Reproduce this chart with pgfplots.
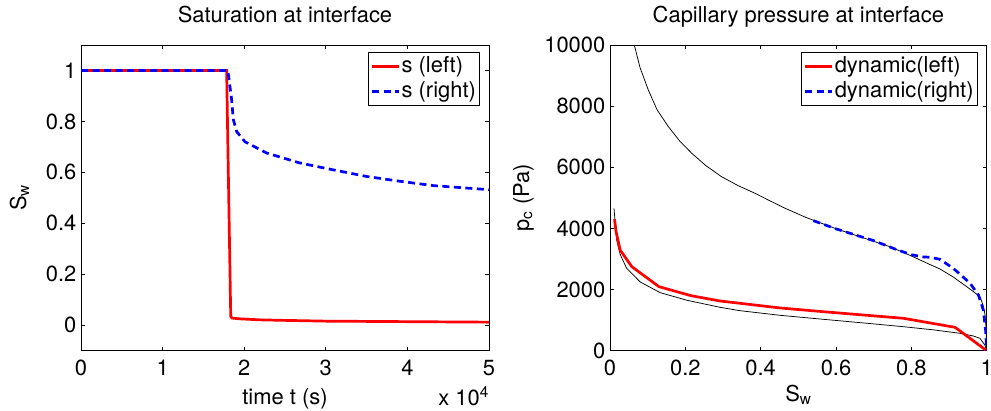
\documentclass[border=0pt]{standalone}
\usepackage{fontspec}
\setmainfont{TeX Gyre Heros}
\usepackage{pgfplots}
\pgfplotsset{compat=1.18}
\pgfplotsset{
  matlab/.style={
    scale only axis,
    height=305.7bp,
    axis line style={line width=0.8bp},
    every tick/.style={black, line width=0.8bp},
    major tick length=3.8bp,
    tick align=inside,
    /pgf/number format/assume math mode=true,
    /pgf/number format/1000 sep={},
    scaled y ticks=false,
    scaled x ticks=false,
    xticklabel style={inner sep=0pt, yshift=-9.5bp},
    yticklabel style={inner sep=0pt, xshift=-4.5bp},
    title style={at={(axis description cs:0.5,1.0556)}, anchor=base, inner sep=0pt},
    legend cell align=left,
    legend image code/.code={\draw[##1] (0bp,0bp) -- (26.7bp,0bp);},
    legend style={at={(axis description cs:1,1)}, anchor=north east, xshift=-8.7bp, yshift=-6.7bp, draw=black, line width=0.8bp, inner xsep=2.5bp, inner ysep=3bp, row sep=3bp, nodes={inner sep=1.5bp}},
  },
  redline/.style={color=red, line width=2.7bp},
  blueline/.style={color=blue, line width=2.7bp, dash pattern=on 7bp off 4.5bp},
  blackline/.style={color=black, line width=0.75bp},
}
\begin{document}
\fontsize{22}{26}\selectfont
\begin{tikzpicture}
\useasboundingbox (0,0) rectangle (991bp,411bp);
\begin{axis}[matlab, name=leftax, at={(81bp,60.3bp)}, anchor=south west, width=408bp,
  xmin=0, xmax=50000, ymin=-0.1, ymax=1.1,
  xtick={0,10000,20000,30000,40000,50000},
  xticklabels={0,1,2,3,4,5},
  ytick={0,0.2,0.4,0.6,0.8,1},
  yticklabels={0,0.2,0.4,0.6,0.8,1},
  title={Saturation at interface},
  xlabel={time t (s)},
  ylabel={S\textsubscript{w}},
  xlabel style={at={(axis description cs:0.5,-0.1744)}, anchor=base, inner sep=0pt},
  ylabel style={at={(axis description cs:-0.1348,0.5)}, anchor=base, inner sep=0pt},
]
\addplot[redline] coordinates {
(0,1) (17850,1) (17950,0.8) (18350,0.035) (18500,0.028) (19500,0.025) (22000,0.021) (25000,0.019) (30000,0.016) (40000,0.014) (50000,0.012)
};
\addlegendentry{s (left)}
\addplot[blueline] coordinates {
(0,1) (18000,1) (18100,0.976) (18460,0.885) (18670,0.807) (19080,0.76) (20100,0.72) (22750,0.676) (26800,0.637) (30900,0.61) (35000,0.584) (39100,0.565) (43200,0.548) (50000,0.532)
};
\addlegendentry{s (right)}
\end{axis}
\node[anchor=base east, inner sep=0pt] at ([yshift=-54.3bp]leftax.south east) {x 10\textsuperscript{4}};
\begin{axis}[matlab, at={(610bp,60.3bp)}, anchor=south west, width=376.7bp,
  xmin=0, xmax=1, ymin=0, ymax=10000,
  xtick={0,0.2,0.4,0.6,0.8,1},
  xticklabels={0,0.2,0.4,0.6,0.8,1},
  ytick={0,2000,4000,6000,8000,10000},
  yticklabels={0,2000,4000,6000,8000,10000},
  title={Capillary pressure at interface},
  xlabel={S\textsubscript{w}},
  ylabel={p\textsubscript{c} (Pa)},
  xlabel style={at={(axis description cs:0.5,-0.1668)}, anchor=base, inner sep=0pt},
  ylabel style={at={(axis description cs:-0.215,0.5)}, anchor=base, inner sep=0pt},
]
\addplot[blackline, forget plot] coordinates {
(0.0645,10000) (0.08,9250) (0.1017,8528) (0.125,7880) (0.155,7328) (0.185,6860) (0.217,6457) (0.255,6050) (0.296,5692) (0.34,5400) (0.385,5149) (0.425,4900) (0.465,4658) (0.52,4360) (0.60,3990) (0.68,3660) (0.743,3402) (0.80,3100) (0.849,2820) (0.876,2672) (0.91,2420) (0.947,2094) (0.965,1930) (0.982,1767) (0.990,1500) (0.995,1223) (0.998,800) (1.0,0)
};
\addplot[blackline, forget plot] coordinates {
(0.0106,4657) (0.0177,3620) (0.027,3150) (0.044,2700) (0.08,2250) (0.133,1900) (0.204,1650) (0.292,1420) (0.345,1309) (0.45,1160) (0.566,1027) (0.68,900) (0.779,785) (0.86,680) (0.929,569) (0.965,480) (0.982,406) (0.995,186) (1.0,0)
};
\addplot[redline] coordinates {
(0.012,4300) (0.016,3900) (0.027,3290) (0.058,2748) (0.130,2094) (0.215,1800) (0.292,1626) (0.345,1551) (0.45,1400) (0.566,1276) (0.68,1160) (0.779,1060) (0.916,765) (1.0,0)
};
\addlegendentry{dynamic(left)}
\addplot[blueline] coordinates {
(0.540,4253) (0.60,3985) (0.70,3600) (0.76,3310) (0.80,3140) (0.83,3070) (0.85,3055) (0.876,2990) (0.911,2695) (0.920,2600) (0.956,2205) (0.978,1822) (0.991,1331) (0.997,677) (1.0,0)
};
\addlegendentry{dynamic(right)}
\end{axis}
\end{tikzpicture}
\end{document}
